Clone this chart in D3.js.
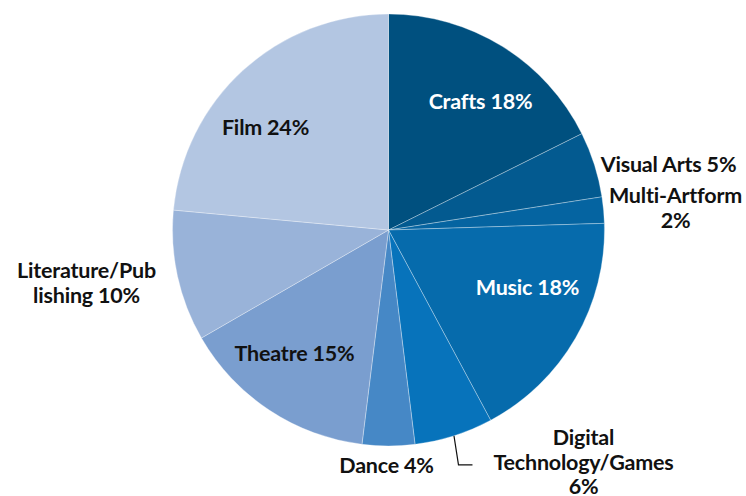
<!DOCTYPE html>
<html>
<head>
<meta charset="utf-8">
<script src="https://cdn.jsdelivr.net/npm/d3@7"></script>
<style>
  html, body { margin: 0; padding: 0; background: #fff; }
  svg { display: block; }
  text { font-family: Lato, "Noto Sans", sans-serif; font-weight: 700; }
</style>
</head>
<body>
<svg id="chart" width="746" height="496"></svg>
<script>
// Share of projects by artform (%), clockwise from 12 o'clock
const categories = ["Crafts", "Visual Arts", "Multi-Artform", "Music", "Digital Technology/Games",
                    "Dance", "Theatre", "Literature/Publishing", "Film"];
const shares = [18, 5, 2, 18, 6, 4, 15, 10, 24];

// Label text lines per slice (value appended on the last line)
const labelLines = [
  ["Crafts"], ["Visual Arts"], ["Multi-Artform", ""], ["Music"],
  ["Digital", "Technology/Games", ""], ["Dance"], ["Theatre"],
  ["Literature/Pub", "lishing"], ["Film"]
];

const colors = ["#00507f", "#035a90", "#0564a1", "#066bac", "#0773bb",
                "#4688c6", "#7a9ecf", "#99b3d9", "#b3c6e2"];

// Label placement: offset of first baseline from pie centre, text colour
const labelPlace = [
  { dx: 92, dy: -121, fill: "#fff" },
  { dx: 280, dy: -58, fill: "#111" },
  { dx: 287, dy: -27, fill: "#111" },
  { dx: 139, dy: 65, fill: "#fff" },
  { dx: 195, dy: 215, fill: "#111" },
  { dx: -2, dy: 243, fill: "#111" },
  { dx: -94, dy: 131, fill: "#111" },
  { dx: -302, dy: 48, fill: "#111" },
  { dx: -123, dy: -95, fill: "#111" }
];

const svg = d3.select("#chart");
const cx = 388.5, cy = 230, radius = 216;
const fontSize = 21.5, lineH = 24.5;

const g = svg.append("g").attr("transform", `translate(${cx},${cy})`);

const pie = d3.pie().sort(null).value(d => d)
  .startAngle(0).endAngle(2 * Math.PI);
const arcs = pie(shares);
const arc = d3.arc().innerRadius(0).outerRadius(radius);

g.selectAll("path.slice")
  .data(arcs)
  .join("path")
  .attr("class", "slice")
  .attr("d", arc)
  .attr("fill", (d, i) => colors[i])
  .attr("stroke", "rgba(255,255,255,0.45)")
  .attr("stroke-width", 0.7);

// Leader line for the Digital Technology/Games slice
{
  const d = arcs[4];
  const mid = (d.startAngle + d.endAngle) / 2;
  const x0 = radius * Math.sin(mid), y0 = -radius * Math.cos(mid);
  const elbow = [x0 + 4.5, y0 + 29];
  const end = [elbow[0] + 14, elbow[1]];
  g.append("path")
    .attr("d", d3.line()([[x0, y0], elbow, end]))
    .attr("fill", "none")
    .attr("stroke", "#111")
    .attr("stroke-width", 1.2);
}

// Labels
arcs.forEach((d, i) => {
  const p = labelPlace[i];
  const lines = labelLines[i].slice();
  const pct = shares[i] + "%";
  const last = lines.length - 1;
  lines[last] = lines[last] ? lines[last] + " " + pct : pct;
  const t = g.append("text")
    .attr("x", p.dx).attr("y", p.dy)
    .attr("text-anchor", "middle")
    .attr("fill", p.fill)
    .style("font-size", fontSize + "px")
    .style("letter-spacing", "-0.2px");
  lines.forEach((ln, k) => {
    t.append("tspan").attr("x", p.dx).attr("dy", k === 0 ? 0 : lineH).text(ln);
  });
});
</script>
</body>
</html>
